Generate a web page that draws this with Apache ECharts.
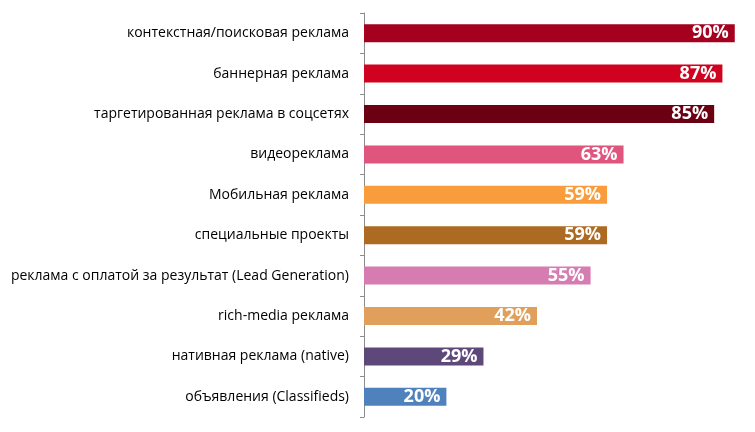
<!DOCTYPE html>
<html>
<head>
<meta charset="utf-8">
<script src="https://cdn.jsdelivr.net/npm/echarts@6/dist/echarts.min.js"></script>
<style>
    html, body { margin: 0; padding: 0; background: #fff; }
    #chart { width: 755px; height: 432px; }
</style>
</head>
<body>
<div id="chart"></div>
<script>
    // категории сверху вниз
    var categories = [
        'контекстная/поисковая реклама',
        'баннерная реклама',
        'таргетированная реклама в соцсетях',
        'видеореклама',
        'Мобильная реклама',
        'специальные проекты',
        'реклама с оплатой за результат (Lead Generation)',
        'rich-media реклама',
        'нативная реклама (native)',
        'объявления (Classifieds)'
    ];
    var values = [90, 87, 85, 63, 59, 59, 55, 42, 29, 20];
    var barColors = ['#A5001E', '#D0021F', '#6A0012', '#E0557D', '#F89C3C',
                     '#AC6A23', '#D67CB1', '#E0A05C', '#5E4879', '#4F81BD'];

    var data = values.map(function (v, i) {
        return { value: v, itemStyle: { color: barColors[i] } };
    });

    var myecharts = echarts.init(document.getElementById('chart'));
    var option = {
        animation: false,
        grid: { left: 364, right: 12, top: 13, bottom: 15, containLabel: false },
        xAxis: {
            type: 'value',
            min: 0,
            max: 92,
            show: false
        },
        yAxis: {
            type: 'category',
            inverse: true,
            data: categories,
            axisLine: { show: true, lineStyle: { color: '#8c8c8c', width: 1 } },
            axisTick: { show: true, length: 4, inside: false, lineStyle: { color: '#8c8c8c' } },
            axisLabel: {
                margin: 15,
                color: '#000',
                fontFamily: 'Open Sans',
                fontSize: 14
            },
            splitLine: { show: false }
        },
        series: [{
            type: 'bar',
            data: data,
            barWidth: 18,
            label: {
                show: true,
                position: 'insideRight',
                distance: 6,
                formatter: '{c}%',
                color: '#fff',
                fontFamily: 'Open Sans',
                fontWeight: 'bold',
                fontSize: 18
            }
        }]
    };
    myecharts.setOption(option);
</script>
</body>
</html>
